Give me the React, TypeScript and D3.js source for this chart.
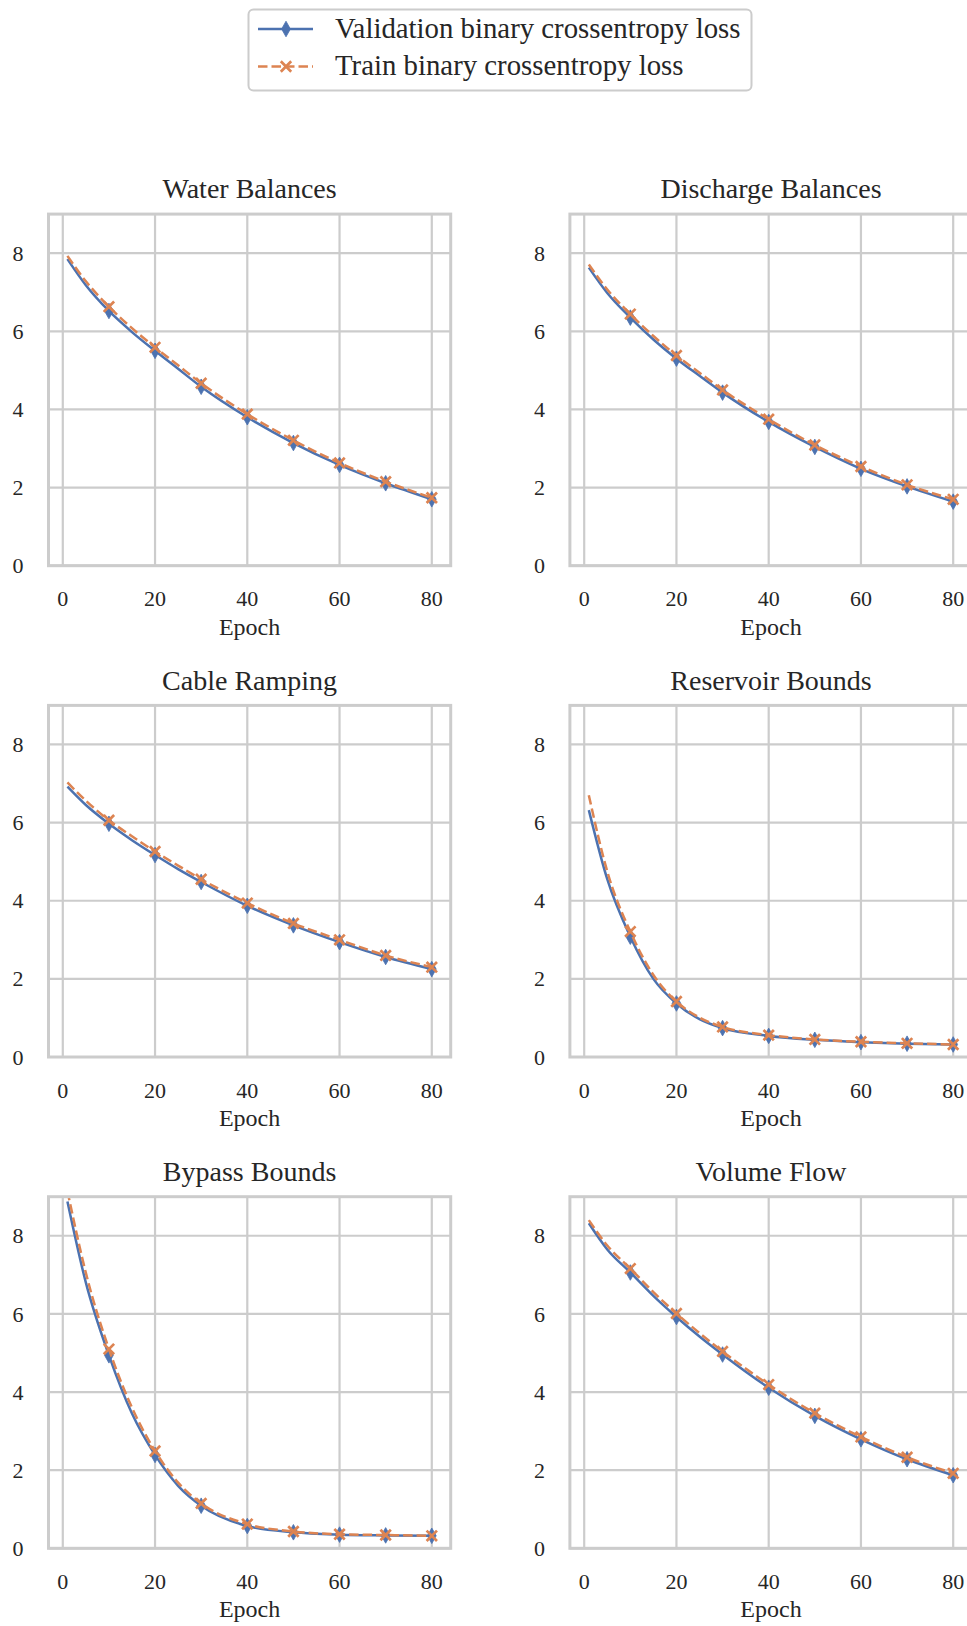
import React from "react";
import * as d3 from "d3";

const EPOCHS = [1, 5, 10, 15, 20, 25, 30, 40, 50, 60, 70, 80];
const MARKER_EPOCHS = [10, 20, 30, 40, 50, 60, 70, 80];

const TITLES = [
  "Water Balances",
  "Discharge Balances",
  "Cable Ramping",
  "Reservoir Bounds",
  "Bypass Bounds",
  "Volume Flow",
];

const VAL_WATER = [7.85, 7.18, 6.52, 5.98, 5.5, 5.04, 4.58, 3.8, 3.14, 2.58, 2.11, 1.7];
const TRAIN_WATER = [7.93, 7.28, 6.63, 6.08, 5.59, 5.13, 4.67, 3.88, 3.21, 2.63, 2.15, 1.74];

const VAL_DISCHARGE = [7.63, 6.98, 6.35, 5.79, 5.3, 4.86, 4.43, 3.68, 3.04, 2.48, 2.03, 1.64];
const TRAIN_DISCHARGE = [7.71, 7.07, 6.44, 5.88, 5.38, 4.94, 4.5, 3.75, 3.09, 2.54, 2.07, 1.7];

const VAL_CABLE = [6.92, 6.45, 5.97, 5.55, 5.17, 4.81, 4.48, 3.87, 3.37, 2.94, 2.56, 2.25];
const TRAIN_CABLE = [7.03, 6.56, 6.06, 5.65, 5.26, 4.9, 4.55, 3.94, 3.42, 3.0, 2.6, 2.3];

const VAL_RESERVOIR = [6.32, 4.55, 3.08, 2.0, 1.37, 0.97, 0.74, 0.54, 0.44, 0.38, 0.34, 0.32];
const TRAIN_RESERVOIR = [6.7, 4.75, 3.21, 2.1, 1.42, 1.01, 0.77, 0.56, 0.45, 0.39, 0.35, 0.32];

const VAL_BYPASS = [8.88, 6.8, 4.94, 3.45, 2.39, 1.6, 1.09, 0.57, 0.41, 0.35, 0.33, 0.32];
const TRAIN_BYPASS = [9.15, 7.05, 5.1, 3.6, 2.49, 1.68, 1.15, 0.62, 0.43, 0.36, 0.34, 0.32];

const VAL_VOLUME = [8.32, 7.65, 7.06, 6.46, 5.92, 5.42, 4.96, 4.11, 3.39, 2.79, 2.28, 1.87];
const TRAIN_VOLUME = [8.4, 7.75, 7.16, 6.56, 6.01, 5.51, 5.04, 4.19, 3.46, 2.85, 2.33, 1.92];

const VAL_SERIES = [VAL_WATER, VAL_DISCHARGE, VAL_CABLE, VAL_RESERVOIR, VAL_BYPASS, VAL_VOLUME];
const TRAIN_SERIES = [TRAIN_WATER, TRAIN_DISCHARGE, TRAIN_CABLE, TRAIN_RESERVOIR, TRAIN_BYPASS, TRAIN_VOLUME];

const X_TICKS = [0, 20, 40, 60, 80];
const Y_TICKS = [0, 2, 4, 6, 8];
const LEGEND_LABELS = ["Validation binary crossentropy loss", "Train binary crossentropy loss"];

const W = 967;
const H = 1626;
const BLUE = "#4c72b0";
const ORANGE = "#dd8452";
const GRID = "#cccccc";
const TEXT = "#262626";
const FONT = "'Liberation Serif', 'Times New Roman', serif";

const COL_LEFT = [48.5, 569.9];
const ROW_BOTTOM = [565.7, 1057.0, 1548.3];
const BOX_W = 402.2;
const BOX_H = 351.6;

function Diamond({ x, y, w = 4.4, h = 7.8, color }: { x: number; y: number; w?: number; h?: number; color: string }) {
  return (
    <path
      d={`M${x},${y - h}L${x + w},${y}L${x},${y + h}L${x - w},${y}Z`}
      fill={color}
      stroke={color}
      strokeWidth={0.8}
    />
  );
}

function Cross({ x, y, s = 5.2, color }: { x: number; y: number; s?: number; color: string }) {
  return (
    <path
      d={`M${x - s},${y - s}L${x + s},${y + s}M${x - s},${y + s}L${x + s},${y - s}`}
      stroke={color}
      strokeWidth={2.7}
      fill="none"
    />
  );
}

function Panel({ idx }: { idx: number }) {
  const col = idx % 2;
  const row = Math.floor(idx / 2);
  const left = COL_LEFT[col];
  const bottom = ROW_BOTTOM[row];
  const top = bottom - BOX_H;
  const x = d3.scaleLinear().domain([-3.1, 84.1]).range([left, left + BOX_W]);
  const y = d3.scaleLinear().domain([0, 9]).range([bottom, top]);
  const val = VAL_SERIES[idx];
  const train = TRAIN_SERIES[idx];
  const line = d3
    .line<number>()
    .x((_, i) => x(EPOCHS[i]))
    .y((d) => y(d))
    .curve(d3.curveMonotoneX);
  const clipId = `clip-${idx}`;
  const cx = left + BOX_W / 2;
  return (
    <g>
      <defs>
        <clipPath id={clipId}>
          <rect x={left} y={top} width={BOX_W} height={BOX_H} />
        </clipPath>
      </defs>
      {X_TICKS.map((t) => (
        <line key={`gx${t}`} x1={x(t)} x2={x(t)} y1={top} y2={bottom} stroke={GRID} strokeWidth={2.2} />
      ))}
      {Y_TICKS.map((t) => (
        <line key={`gy${t}`} x1={left} x2={left + BOX_W} y1={y(t)} y2={y(t)} stroke={GRID} strokeWidth={2.2} />
      ))}
      <g clipPath={`url(#${clipId})`}>
        <path d={line(val) || ""} fill="none" stroke={BLUE} strokeWidth={2.5} />
        {MARKER_EPOCHS.map((e) => {
          const i = EPOCHS.indexOf(e);
          return <Diamond key={`d${e}`} x={x(e)} y={y(val[i])} color={BLUE} />;
        })}
        <path d={line(train) || ""} fill="none" stroke={ORANGE} strokeWidth={2.5} strokeDasharray="9.5 4" />
        {MARKER_EPOCHS.map((e) => {
          const i = EPOCHS.indexOf(e);
          return <Cross key={`c${e}`} x={x(e)} y={y(train[i])} color={ORANGE} />;
        })}
      </g>
      <rect x={left} y={top} width={BOX_W} height={BOX_H} fill="none" stroke={GRID} strokeWidth={3} />
      {X_TICKS.map((t) => (
        <text key={`tx${t}`} x={x(t)} y={bottom + 40.5} textAnchor="middle" fontSize={22} fill={TEXT} fontFamily={FONT}>
          {t}
        </text>
      ))}
      {Y_TICKS.map((t) => (
        <text key={`ty${t}`} x={left - 25} y={y(t) + 7.6} textAnchor="end" fontSize={22} fill={TEXT} fontFamily={FONT}>
          {t}
        </text>
      ))}
      <text x={cx} y={bottom + 69} textAnchor="middle" fontSize={24} fill={TEXT} fontFamily={FONT}>
        Epoch
      </text>
      <text x={cx} y={bottom - 367.4} textAnchor="middle" fontSize={28} fill={TEXT} fontFamily={FONT}>
        {TITLES[idx]}
      </text>
    </g>
  );
}

function Legend() {
  const lx1 = 258;
  const lx2 = 313;
  const mx = 286;
  const rows = [29, 66.5];
  return (
    <g>
      <rect x={248.5} y={9.5} width={503} height={81} rx={5} fill="#ffffff" stroke={GRID} strokeWidth={2} />
      <line x1={lx1} x2={lx2} y1={rows[0]} y2={rows[0]} stroke={BLUE} strokeWidth={2.5} />
      <Diamond x={mx} y={rows[0]} color={BLUE} />
      <line x1={lx1} x2={lx2} y1={rows[1]} y2={rows[1]} stroke={ORANGE} strokeWidth={2.5} strokeDasharray="9.5 4" />
      <Cross x={mx} y={rows[1]} color={ORANGE} />
      <text x={335} y={rows[0] + 8.5} fontSize={28.8} fill={TEXT} fontFamily={FONT}>
        {LEGEND_LABELS[0]}
      </text>
      <text x={335} y={rows[1] + 8.5} fontSize={28.8} fill={TEXT} fontFamily={FONT}>
        {LEGEND_LABELS[1]}
      </text>
    </g>
  );
}

export default function App() {
  return (
    <div style={{ position: "absolute", left: 0, top: 0, width: W, height: H, overflow: "hidden", background: "#fff" }}>
      <svg width={W} height={H} viewBox={`0 0 ${W} ${H}`} style={{ display: "block" }}>
        <rect x={0} y={0} width={W} height={H} fill="#ffffff" />
        <Legend />
        {TITLES.map((_, i) => (
          <Panel key={i} idx={i} />
        ))}
      </svg>
    </div>
  );
}
